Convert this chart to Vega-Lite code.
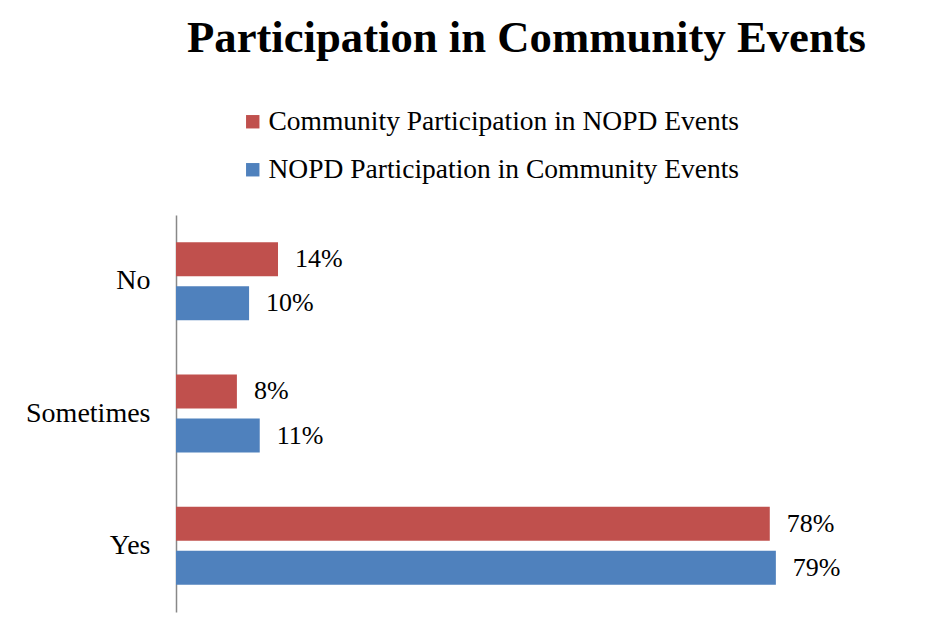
{
  "$schema": "https://vega.github.io/schema/vega-lite/v6.json",
  "width": 609,
  "height": 397,
  "autosize": {"type": "none"},
  "padding": {"left": 176, "top": 215, "right": 166, "bottom": 27},
  "background": "white",
  "title": {
    "text": "Participation in Community Events",
    "font": "Liberation Serif",
    "fontSize": 44.7,
    "fontWeight": "bold",
    "color": "black",
    "anchor": "middle",
    "frame": "group",
    "dx": 46,
    "offset": 11,
    "baseline": "alphabetic"
  },
  "config": {"view": {"stroke": null}},
  "data": {
    "values": [
      {"answer": "No", "series": "Community Participation in NOPD Events", "pct": 13.4, "label": "14%"},
      {"answer": "No", "series": "NOPD Participation in Community Events", "pct": 9.6, "label": "10%"},
      {"answer": "Sometimes", "series": "Community Participation in NOPD Events", "pct": 8.0, "label": "8%"},
      {"answer": "Sometimes", "series": "NOPD Participation in Community Events", "pct": 11.0, "label": "11%"},
      {"answer": "Yes", "series": "Community Participation in NOPD Events", "pct": 78.0, "label": "78%"},
      {"answer": "Yes", "series": "NOPD Participation in Community Events", "pct": 78.8, "label": "79%"}
    ]
  },
  "encoding": {
    "y": {
      "field": "answer",
      "type": "nominal",
      "sort": ["No", "Sometimes", "Yes"],
      "scale": {"paddingInner": 0.41, "paddingOuter": 0.205},
      "axis": {
        "title": null,
        "ticks": false,
        "grid": false,
        "domainColor": "#888888",
        "domainWidth": 1.5,
        "labelFont": "Liberation Serif",
        "labelFontSize": 28,
        "labelColor": "black",
        "labelPadding": 26
      }
    },
    "yOffset": {
      "field": "series",
      "type": "nominal",
      "sort": ["Community Participation in NOPD Events", "NOPD Participation in Community Events"],
      "scale": {"paddingInner": 0.227, "paddingOuter": 0}
    },
    "x": {
      "field": "pct",
      "type": "quantitative",
      "scale": {"domain": [0, 80], "nice": false},
      "axis": null
    }
  },
  "layer": [
    {
      "mark": {"type": "bar"},
      "encoding": {
        "color": {
          "field": "series",
          "type": "nominal",
          "sort": ["Community Participation in NOPD Events", "NOPD Participation in Community Events"],
          "scale": {"range": ["#C0504D", "#4F81BD"]},
          "legend": {
            "title": null,
            "orient": "none",
            "legendX": 63,
            "legendY": -107,
            "direction": "vertical",
            "padding": 0,
            "symbolType": "square",
            "symbolSize": 180,
            "symbolStrokeWidth": 0,
            "symbolOpacity": 1,
            "labelFont": "Liberation Serif",
            "labelFontSize": 27.5,
            "labelColor": "black",
            "labelOffset": 2,
            "labelLimit": 700,
            "rowPadding": 19
          }
        }
      }
    },
    {
      "mark": {
        "type": "text",
        "align": "left",
        "baseline": "middle",
        "dx": 17,
        "font": "Liberation Serif",
        "fontSize": 26,
        "color": "black"
      },
      "encoding": {"text": {"field": "label"}}
    }
  ]
}
